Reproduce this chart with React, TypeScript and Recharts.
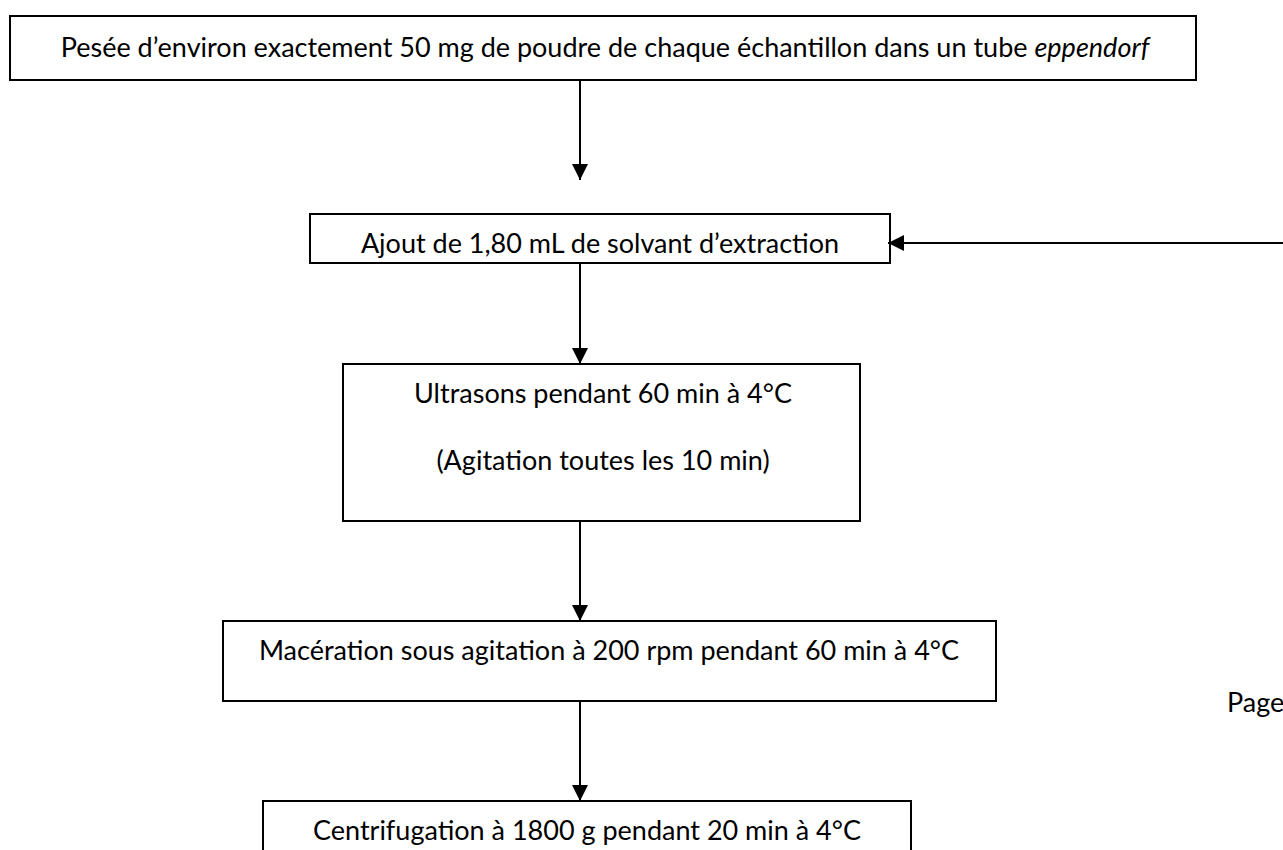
import React from "react";
import {
  ComposedChart,
  XAxis,
  YAxis,
  ReferenceArea,
  ReferenceLine,
  Scatter,
} from "recharts";

// flowchart laid out on a 1283 x 850 value grid (y grows downward)
const boxLeft = [10, 310, 343, 223, 263];
const boxRight = [1196, 890, 860, 996, 911];
const boxTop = [16, 214, 364, 621, 801];
const boxBottom = [80, 263, 521, 701, 900];

const stepText = [
  "Pesée d’environ exactement 50 mg de poudre de chaque échantillon dans un tube ",
  "Ajout de 1,80 mL de solvant d’extraction",
  "Ultrasons pendant 60 min à 4°C",
  "(Agitation toutes les 10 min)",
  "Macération sous agitation à 200 rpm pendant 60 min à 4°C",
  "Centrifugation à 1800 g pendant 20 min à 4°C",
  "Page",
];
const stepItalic = ["eppendorf", "", "", "", "", "", ""];
const textX = [605, 600, 603, 603, 609, 587, 1227];
const textY = [57, 253, 403, 470, 660, 840, 712];
const textAnchor = ["middle", "middle", "middle", "middle", "middle", "middle", "start"];

// arrows: start -> tip
const arrowX1 = [580, 580, 580, 580, 1290];
const arrowY1 = [80, 263, 521, 701, 243];
const arrowX2 = [580, 580, 580, 580, 888];
const arrowY2 = [180, 364, 621, 801, 243];
const arrowDir = ["down", "down", "down", "down", "left"];

const labels = stepText.map((t, i) => ({
  x: textX[i],
  y: textY[i],
  text: t,
  em: stepItalic[i],
  anchor: textAnchor[i],
}));

const heads = arrowX2.map((x, i) => ({ x, y: arrowY2[i], dir: arrowDir[i] }));

const FONT = "Lato, 'Open Sans', sans-serif";

const LabelShape = (props: any) => {
  const { cx, cy, payload } = props;
  return (
    <text
      x={cx}
      y={cy}
      textAnchor={payload.anchor}
      fontFamily={FONT}
      fontSize={27}
      fill="#000"
    >
      {payload.text}
      {payload.em ? <tspan fontStyle="italic">{payload.em}</tspan> : null}
    </text>
  );
};

const HeadShape = (props: any) => {
  const { cx, cy, payload } = props;
  const s = 8;
  const l = 16;
  const pts =
    payload.dir === "left"
      ? `${cx},${cy} ${cx + l},${cy - s} ${cx + l},${cy + s}`
      : `${cx},${cy} ${cx - s},${cy - l} ${cx + s},${cy - l}`;
  return <polygon points={pts} fill="#000" />;
};

export default function App() {
  return (
    <div style={{ position: "absolute", left: 0, top: 0, background: "#fff" }}>
      <ComposedChart width={1283} height={850} margin={{ top: 0, right: 0, bottom: 0, left: 0 }}>
        <XAxis type="number" dataKey="x" domain={[0, 1283]} hide allowDataOverflow />
        <YAxis type="number" dataKey="y" domain={[0, 850]} reversed hide allowDataOverflow />
        {boxLeft.map((x1, i) => (
          <ReferenceArea
            key={`box-${i}`}
            x1={x1}
            x2={boxRight[i]}
            y1={boxTop[i]}
            y2={boxBottom[i]}
            fill="#fff"
            fillOpacity={1}
            stroke="#000"
            strokeWidth={2}
            ifOverflow="hidden"
          />
        ))}
        {arrowX1.map((x, i) => (
          <ReferenceLine
            key={`arrow-${i}`}
            segment={[
              { x, y: arrowY1[i] },
              { x: arrowX2[i], y: arrowY2[i] },
            ]}
            stroke="#000"
            strokeWidth={2}
            ifOverflow="hidden"
          />
        ))}
        <Scatter data={heads} shape={<HeadShape />} isAnimationActive={false} />
        <Scatter data={labels} shape={<LabelShape />} isAnimationActive={false} />
      </ComposedChart>
    </div>
  );
}
